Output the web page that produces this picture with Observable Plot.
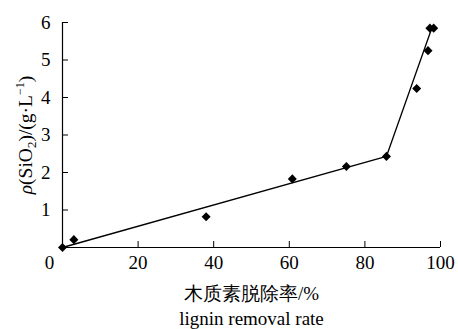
<!DOCTYPE html>
<html>
<head>
<meta charset="utf-8">
<script src="https://cdn.jsdelivr.net/npm/d3@7"></script>
<script src="https://cdn.jsdelivr.net/npm/@observablehq/plot@0.6"></script>
<style>
body{margin:0;background:#fff;}
svg{font-family:"Liberation Serif","Times New Roman",serif;}
svg g[aria-label*="tick label"] text{font-size:19px;}
</style>
</head>
<body>
<div id="chart"></div>
<script>
const removal = [0, 3, 38, 60.8, 75.1, 85.7, 93.7, 96.7, 97.2, 98.2];
const silica  = [0, 0.21, 0.82, 1.83, 2.16, 2.43, 4.24, 5.25, 5.85, 5.85];
const fitX = [0, 85.7, 97.7];
const fitY = [0, 2.43, 5.85];
const xTicks = [20, 40, 60, 80, 100];
const yTicks = [1, 2, 3, 4, 5, 6];
const xTitle = "木质素脱除率/%";
const xTitleEn = "lignin removal rate";

const points = removal.map((x, i) => ({x, y: silica[i]}));
const fit = fitX.map((x, i) => ({x, y: fitY[i]}));

const plot = Plot.plot({
  width: 458,
  height: 329,
  marginLeft: 62,
  marginRight: 18,
  marginTop: 22,
  marginBottom: 82,
  style: {fontFamily: "'Liberation Serif', serif", fontSize: "19px", color: "#000", background: "#fff"},
  x: {domain: [0, 100]},
  y: {domain: [0, 6]},
  marks: [
    Plot.ruleX([0], {y1: 0, y2: 6, stroke: "#000", strokeWidth: 1.2}),
    Plot.ruleY([0], {x1: 0, x2: 100, stroke: "#000", strokeWidth: 1.2}),
    Plot.axisX(xTicks, {tickSize: -6, tickPadding: 14, fontSize: 19, stroke: "#000", fill: "#000", label: null}),
    Plot.axisX([0], {tickSize: 0, tickPadding: 8, dx: -13, fontSize: 19, fill: "#000", label: null}),
    Plot.axisY(yTicks, {tickSize: -6, tickPadding: 18, fontSize: 19, stroke: "#000", fill: "#000", label: null}),
    Plot.line(fit, {x: "x", y: "y", stroke: "#000", strokeWidth: 1.4}),
    Plot.dot(points, {x: "x", y: "y", symbol: "square", r: 3.6, rotate: 45, fill: "#000", stroke: "none"}),
    Plot.text([xTitle], {frameAnchor: "bottom", dy: 52, fontSize: 19, fill: "#000"}),
    Plot.text([xTitleEn], {frameAnchor: "bottom", dy: 77, fontSize: 19, fill: "#000"}),
    Plot.text(["ρ(SiO2)/(g·L-1)"], {frameAnchor: "left", textAnchor: "middle", dx: -37, rotate: -90, fontSize: 19.5, fill: "#000", className: "ylab"})
  ]
});
document.getElementById("chart").appendChild(plot);

// rich formatting of the y label
const t = d3.select(plot).select(".ylab text");
if (!t.empty()) {
  t.text(null);
  t.append("tspan").attr("font-style", "italic").text("ρ");
  t.append("tspan").text("(SiO");
  t.append("tspan").attr("font-size", "13").attr("dy", "4").text("2");
  t.append("tspan").attr("dy", "-4").text(")/(g·L");
  t.append("tspan").attr("font-size", "12").attr("dy", "-8").text("−1");
  t.append("tspan").attr("dy", "8").text(")");
}
</script>
</body>
</html>
